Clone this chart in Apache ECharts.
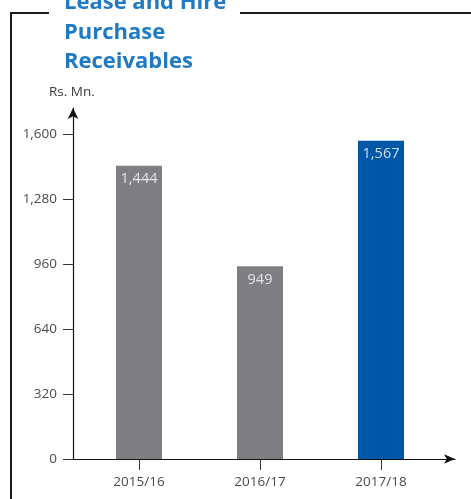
<!DOCTYPE html>
<html>
<head>
<meta charset="utf-8">
<script src="https://cdn.jsdelivr.net/npm/echarts@6/dist/echarts.min.js"></script>
<style>
  html, body { margin: 0; padding: 0; background: #fff; }
  #chart { width: 471px; height: 499px; }
</style>
</head>
<body>
<div id="chart"></div>
<script>
// Lease and hire purchase receivables, Rs. Mn.
const years = ['2015/16', '2016/17', '2017/18'];
const receivables = [1444, 949, 1567];
const barColors = ['#7f7f83', '#7f7f83', '#0057a7'];
const yTicks = [0, 320, 640, 960, 1280, 1600];
const yAxisMax = 1728;   // axis line runs a little past the last tick, up to its arrow

const fmt = v => v.toLocaleString('en-US');
const font = '"Open Sans", "Noto Sans", sans-serif';

const chart = echarts.init(document.getElementById('chart'), null, { renderer: 'canvas' });

chart.setOption({
  animation: false,
  title: {
    text: 'Lease and Hire\nPurchase\nReceivables',
    left: 61,
    top: -12,
    padding: [0, 3, 0, 3],
    backgroundColor: '#fff',
    textStyle: {
      color: '#1f7ac3',
      fontFamily: font,
      fontWeight: 'bold',
      fontSize: 22,
      lineHeight: 29.5
    }
  },
  graphic: [
    // frame around the panel
    { type: 'polyline', z: 0, shape: { points: [[11, 499], [11, 13], [49, 13]] },
      style: { stroke: '#1b1b1b', lineWidth: 2, fill: null } },
    { type: 'line', z: 0, shape: { x1: 240, y1: 13, x2: 471, y2: 13 },
      style: { stroke: '#1b1b1b', lineWidth: 2 } },
    { type: 'text', left: 49, top: 85,
      style: { text: 'Rs. Mn.', fill: '#3a3a3a', font: '13.5px ' + font } }
  ],
  grid: [
    // axes frame: both lines carry an arrow
    { left: 73, top: 108, width: 382, bottom: 40 },
    // bar area: three equal category bands
    { left: 78.5, top: 108, width: 363, bottom: 40 }
  ],
  xAxis: [
    { gridIndex: 0, type: 'value', min: 0, max: 1,
      axisLine: { show: true, symbol: ['none', 'arrow'], symbolSize: [7, 11],
                  lineStyle: { color: '#111', width: 1.2 } },
      axisTick: { show: false }, axisLabel: { show: false }, splitLine: { show: false } },
    { gridIndex: 1, type: 'category', data: years,
      axisLine: { show: false },
      axisTick: { show: true, alignWithLabel: true, length: 11, lineStyle: { color: '#333', width: 1 } },
      axisLabel: { margin: 16, color: '#4a4a4a', fontSize: 13.5, fontFamily: font },
      splitLine: { show: false } }
  ],
  yAxis: [
    { gridIndex: 0, type: 'value', min: 0, max: yAxisMax,
      axisLine: { show: true, symbol: ['none', 'arrow'], symbolSize: [8, 11],
                  lineStyle: { color: '#111', width: 1.2 } },
      axisTick: { show: true, inside: false, length: 10, customValues: yTicks,
                  lineStyle: { color: '#333', width: 1 } },
      axisLabel: { customValues: yTicks, margin: 16, color: '#4a4a4a', fontSize: 13.5,
                   fontFamily: font, formatter: v => fmt(v) },
      splitLine: { show: false } },
    { gridIndex: 1, type: 'value', min: 0, max: yAxisMax, show: false }
  ],
  series: [{
    type: 'bar',
    xAxisIndex: 1,
    yAxisIndex: 1,
    barWidth: 46,
    data: receivables.map((v, i) => ({ value: v, itemStyle: { color: barColors[i] } })),
    label: {
      show: true,
      position: 'insideTop',
      distance: 6,
      color: 'rgba(255,255,255,0.8)',
      fontSize: 14.5,
      fontFamily: font,
      formatter: p => fmt(p.value)
    }
  }]
});
</script>
</body>
</html>
